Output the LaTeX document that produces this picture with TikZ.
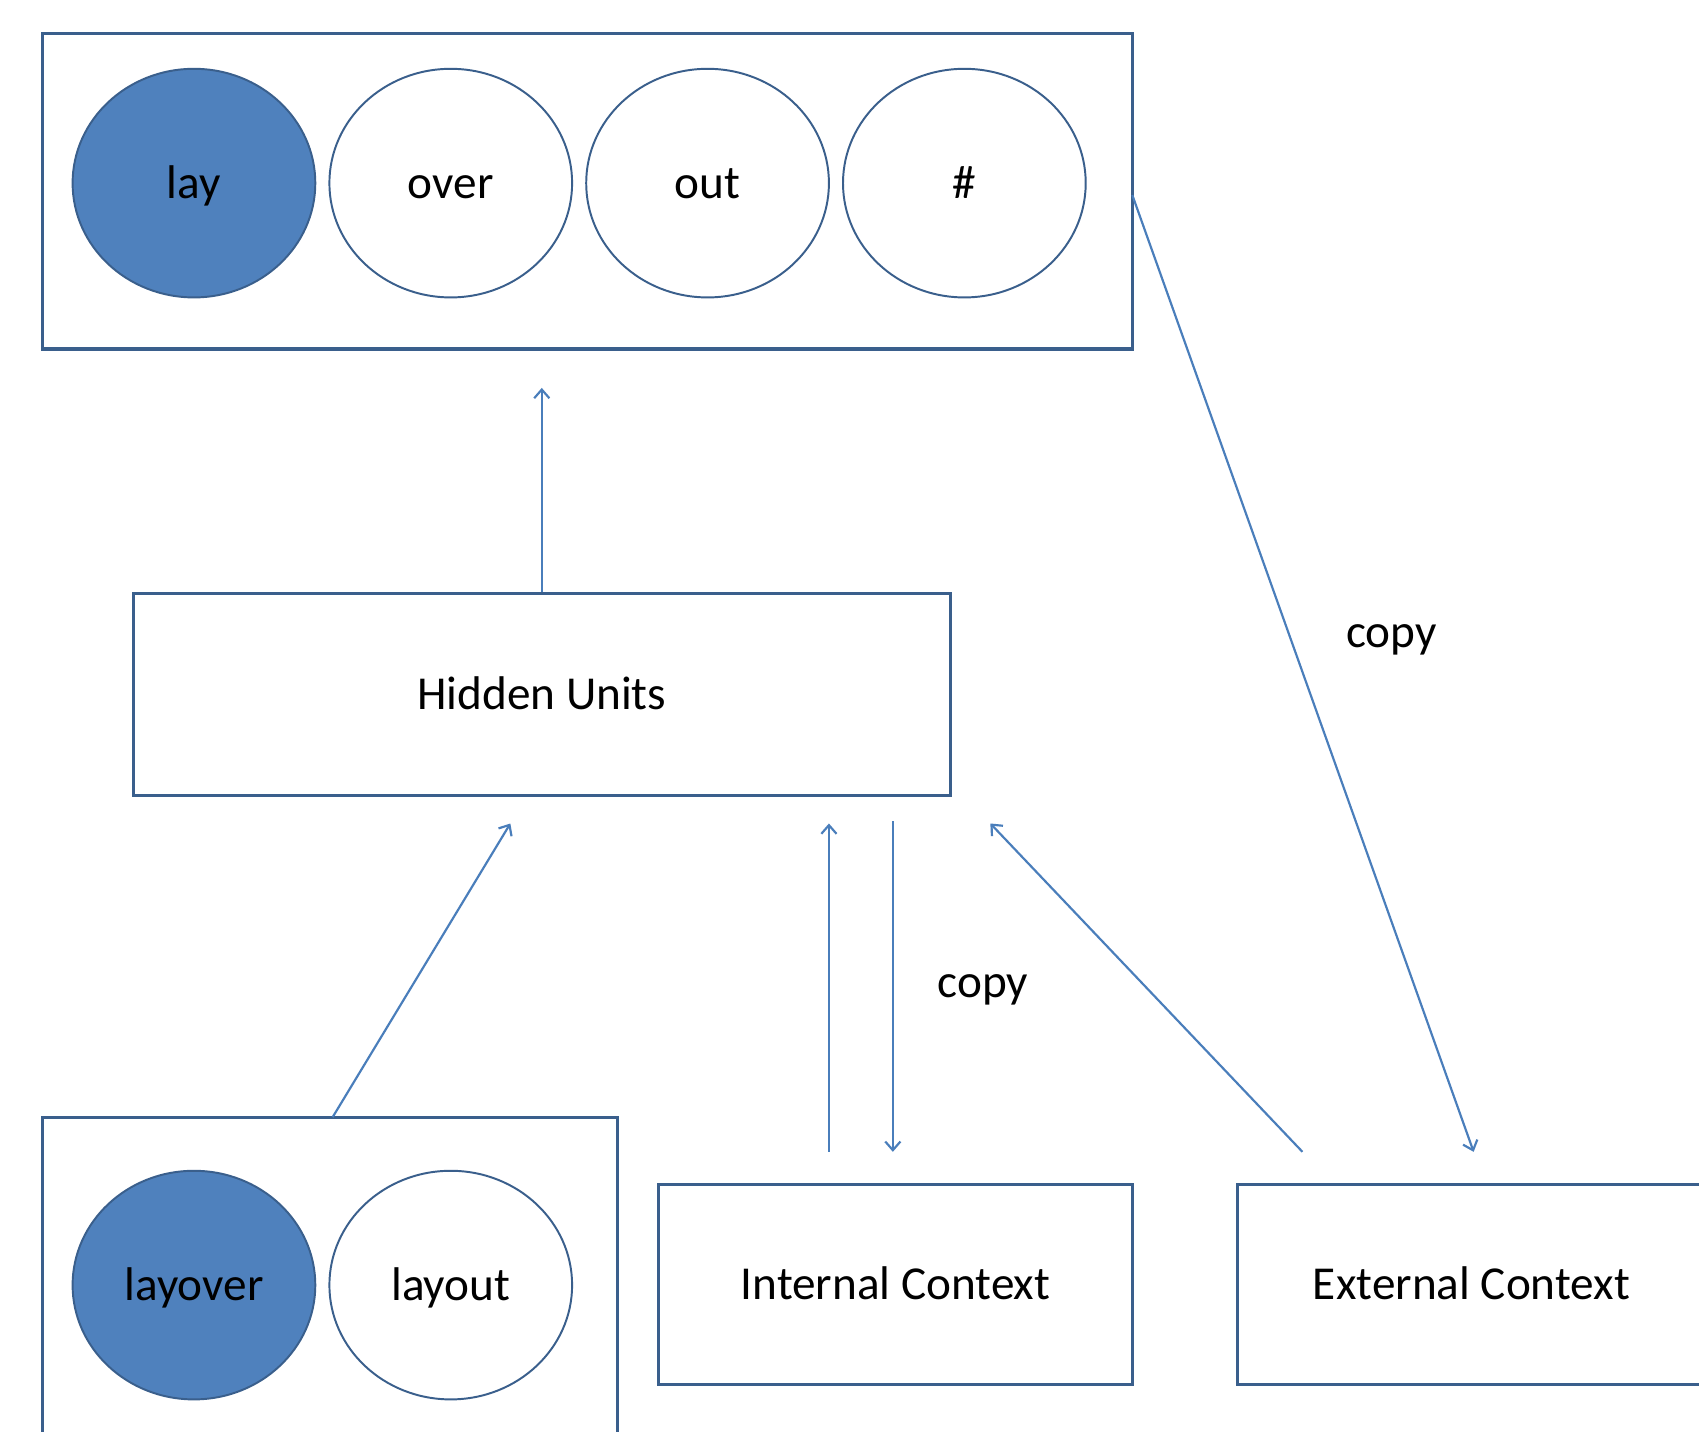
\documentclass[tikz,border=0pt]{standalone}
\usepackage{fontspec}
\setmainfont{Carlito}
\usetikzlibrary{shapes.geometric,arrows.meta}
\definecolor{boxline}{HTML}{3A5F8C}
\definecolor{arrowline}{HTML}{4A7EBB}
\definecolor{unitfill}{HTML}{4F81BD}
\tikzset{
  frame/.style={rectangle, draw=boxline, line width=1.5pt, inner sep=0pt},
  unit/.style={ellipse, draw=boxline, line width=0.9pt, fill=white,
    minimum width=112pt, minimum height=105.5pt, inner sep=0pt},
  active/.style={unit, fill=unitfill},
  link/.style={draw=arrowline, line width=1pt, -{Straight Barb[length=4pt,width=7pt]}},
  lbl/.style={font=\fontsize{21.8}{26}\selectfont, text height=14.5pt, text depth=0.5pt}
}
\begin{document}
\begin{tikzpicture}[x=0.5pt,y=-0.5pt]
\useasboundingbox (0,0) rectangle (1568,1321);
\fill[white] (0,0) rectangle (1568,1321);
\clip (0,0) rectangle (1568,1321);

% output layer
\node[frame, minimum width=503pt, minimum height=145.5pt] (outbox) at (542,176.5) {};
\node[active, lbl] (lay) at (179,169) {lay};
\node[unit, lbl] (over) at (416,169) {over};
\node[unit, lbl] (out) at (653,169) {out};
\node[unit, lbl] (hash) at (890,169) {\#};

% hidden layer
\node[frame, lbl, minimum width=377pt, minimum height=93pt] (hidden) at (500,641) {Hidden Units};

% input layer
\node[frame, minimum width=265.5pt, minimum height=184.5pt] (inbox) at (304.5,1215.5) {};
\node[active, lbl] (layover) at (179,1186) {layover};
\node[unit, lbl] (layout) at (416,1186) {layout};

% context layers
\node[frame, lbl, minimum width=218.5pt, minimum height=92.5pt] (internal) at (826.5,1185.5) {Internal Context};
\node[frame, lbl, minimum width=216pt, minimum height=92.5pt] (external) at (1358,1185.5) {External Context};

% connector end points
\coordinate (toOut) at (500,358);
\coordinate (inFoot) at (307,1031);
\coordinate (toHidA) at (471,760);
\coordinate (intUpFoot) at (765,1063);
\coordinate (toHidB) at (765,760);
\coordinate (hidDownFoot) at (824,758);
\coordinate (toInt) at (824,1063);
\coordinate (extFoot) at (1202,1063);
\coordinate (toHidC) at (914,760);
\coordinate (outSide) at (1045,180);
\coordinate (toExt) at (1360,1063);

\draw[link] (hidden.north) -- (toOut);
\draw[link] (inFoot) -- (toHidA);
\draw[link] (intUpFoot) -- (toHidB);
\draw[link] (hidDownFoot) -- (toInt);
\draw[link] (extFoot) -- (toHidC);
\draw[link] (outSide) -- (toExt);

\node[lbl] (copyA) at (907,907) {copy};
\node[lbl] (copyB) at (1284,584) {copy};
\end{tikzpicture}
\end{document}
